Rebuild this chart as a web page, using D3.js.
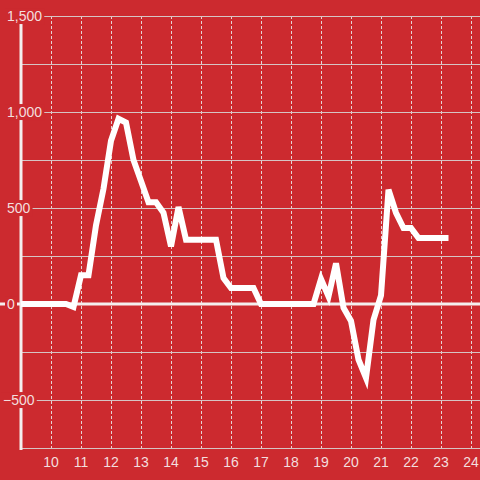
<!DOCTYPE html>
<html>
<head>
<meta charset="utf-8">
<script src="https://cdn.jsdelivr.net/npm/d3@7"></script>
<style>
  html, body { margin: 0; padding: 0; background: #cc2a2f; }
  svg { display: block; }
</style>
</head>
<body>
<div id="chart"></div>
<script>
(function(){
  var width = 480,
      height = 480;

  // data
  var hours = [9, 9.25, 9.5, 9.75, 10, 10.25, 10.5, 10.75,
               11, 11.25, 11.5, 11.75, 12, 12.25, 12.5, 12.75,
               13, 13.25, 13.5, 13.75, 14, 14.25, 14.5, 14.75,
               15, 15.25, 15.5, 15.75, 16, 16.25, 16.5, 16.75,
               17, 17.25, 17.5, 17.75, 18, 18.25, 18.5, 18.75,
               19, 19.25, 19.5, 19.75, 20, 20.25, 20.5, 20.75,
               21, 21.25, 21.5, 21.75, 22, 22.25, 22.5, 22.75,
               23, 23.25];
  var values = [0, 0, 0, 0, 0, 0, 0, -15,
                150, 150, 410, 600, 850, 965, 945, 750,
                640, 530, 530, 475, 300, 505, 335, 335,
                335, 335, 335, 135, 83, 83, 83, 83,
                0, 0, 0, 0, 0, 0, 0, 0,
                130, 40, 212, -20, -88, -290, -385, -83,
                45, 595, 475, 396, 396, 344, 344, 344,
                344, 344];
  var xTicks = [10, 11, 12, 13, 14, 15, 16, 17, 18, 19, 20, 21, 22, 23, 24];
  var yTicks = [-500, 0, 500, 1000, 1500];
  var yGrid = [-750, -500, -250, 250, 500, 750, 1000, 1250, 1500];

  var points = hours.map(function(h, i){ return {h: h, v: values[i]}; });

  var bg = "#cc2a2f",
      txt = "#f3dede";

  var x = d3.scaleLinear().domain([9, 24.3]).range([21, 480]);
  var y = d3.scaleLinear().domain([-750, 1500]).range([448, 16]);

  var svg = d3.select("#chart")
    .append("svg")
    .attr("width", width)
    .attr("height", height);

  svg.append("rect")
    .attr("width", width)
    .attr("height", height)
    .attr("fill", bg);

  // vertical dashed grid
  svg.selectAll(".vgrid")
    .data(xTicks)
    .enter().append("line")
    .attr("class", "vgrid")
    .attr("x1", function(d){ return Math.round(x(d)) + 0.5; })
    .attr("x2", function(d){ return Math.round(x(d)) + 0.5; })
    .attr("y1", y(1500))
    .attr("y2", y(-750))
    .attr("stroke", "#e6d2d2")
    .attr("stroke-width", 1)
    .attr("stroke-dasharray", "3,2");

  // horizontal grid
  svg.selectAll(".hgrid")
    .data(yGrid)
    .enter().append("line")
    .attr("class", "hgrid")
    .attr("x1", x(9))
    .attr("x2", width)
    .attr("y1", function(d){ return Math.round(y(d)) + 0.5; })
    .attr("y2", function(d){ return Math.round(y(d)) + 0.5; })
    .attr("stroke", "#d6c4c4")
    .attr("stroke-width", 1);

  // zero line
  svg.append("line")
    .attr("x1", 0)
    .attr("x2", width)
    .attr("y1", y(0))
    .attr("y2", y(0))
    .attr("stroke", "#f4eeee")
    .attr("stroke-width", 3);

  // left axis
  svg.append("line")
    .attr("x1", x(9))
    .attr("x2", x(9))
    .attr("y1", y(1500))
    .attr("y2", y(-750) + 2)
    .attr("stroke", "#f4eeee")
    .attr("stroke-width", 3);

  // y labels with background
  var yl = svg.selectAll(".ylab")
    .data(yTicks)
    .enter().append("g")
    .attr("class", "ylab");

  yl.append("text")
    .attr("x", function(d){ return d < 0 ? 3 : 7; })
    .attr("y", function(d){ return y(d); })
    .attr("dy", "0.36em")
    .attr("font-family", "Liberation Sans, Arial, sans-serif")
    .attr("font-size", 14)
    .attr("fill", txt)
    .text(function(d){ return d3.format(",")(d); });

  yl.each(function(){
    var g = d3.select(this);
    var b = g.select("text").node().getBBox();
    g.insert("rect", "text")
      .attr("x", b.x - 2)
      .attr("y", b.y)
      .attr("width", b.width + 4)
      .attr("height", b.height)
      .attr("fill", bg);
  });

  // x labels
  svg.selectAll(".xlab")
    .data(xTicks)
    .enter().append("text")
    .attr("class", "xlab")
    .attr("x", function(d){ return x(d); })
    .attr("y", 467)
    .attr("text-anchor", "middle")
    .attr("font-family", "Liberation Sans, Arial, sans-serif")
    .attr("font-size", 14)
    .attr("fill", txt)
    .text(function(d){ return d; });

  // the series
  var line = d3.line()
    .x(function(d){ return x(d.h); })
    .y(function(d){ return y(d.v); });

  svg.append("path")
    .datum(points)
    .attr("d", line)
    .attr("fill", "none")
    .attr("stroke", "#ffffff")
    .attr("stroke-width", 6)
    .attr("stroke-linejoin", "miter");
})();
</script>
</body>
</html>
